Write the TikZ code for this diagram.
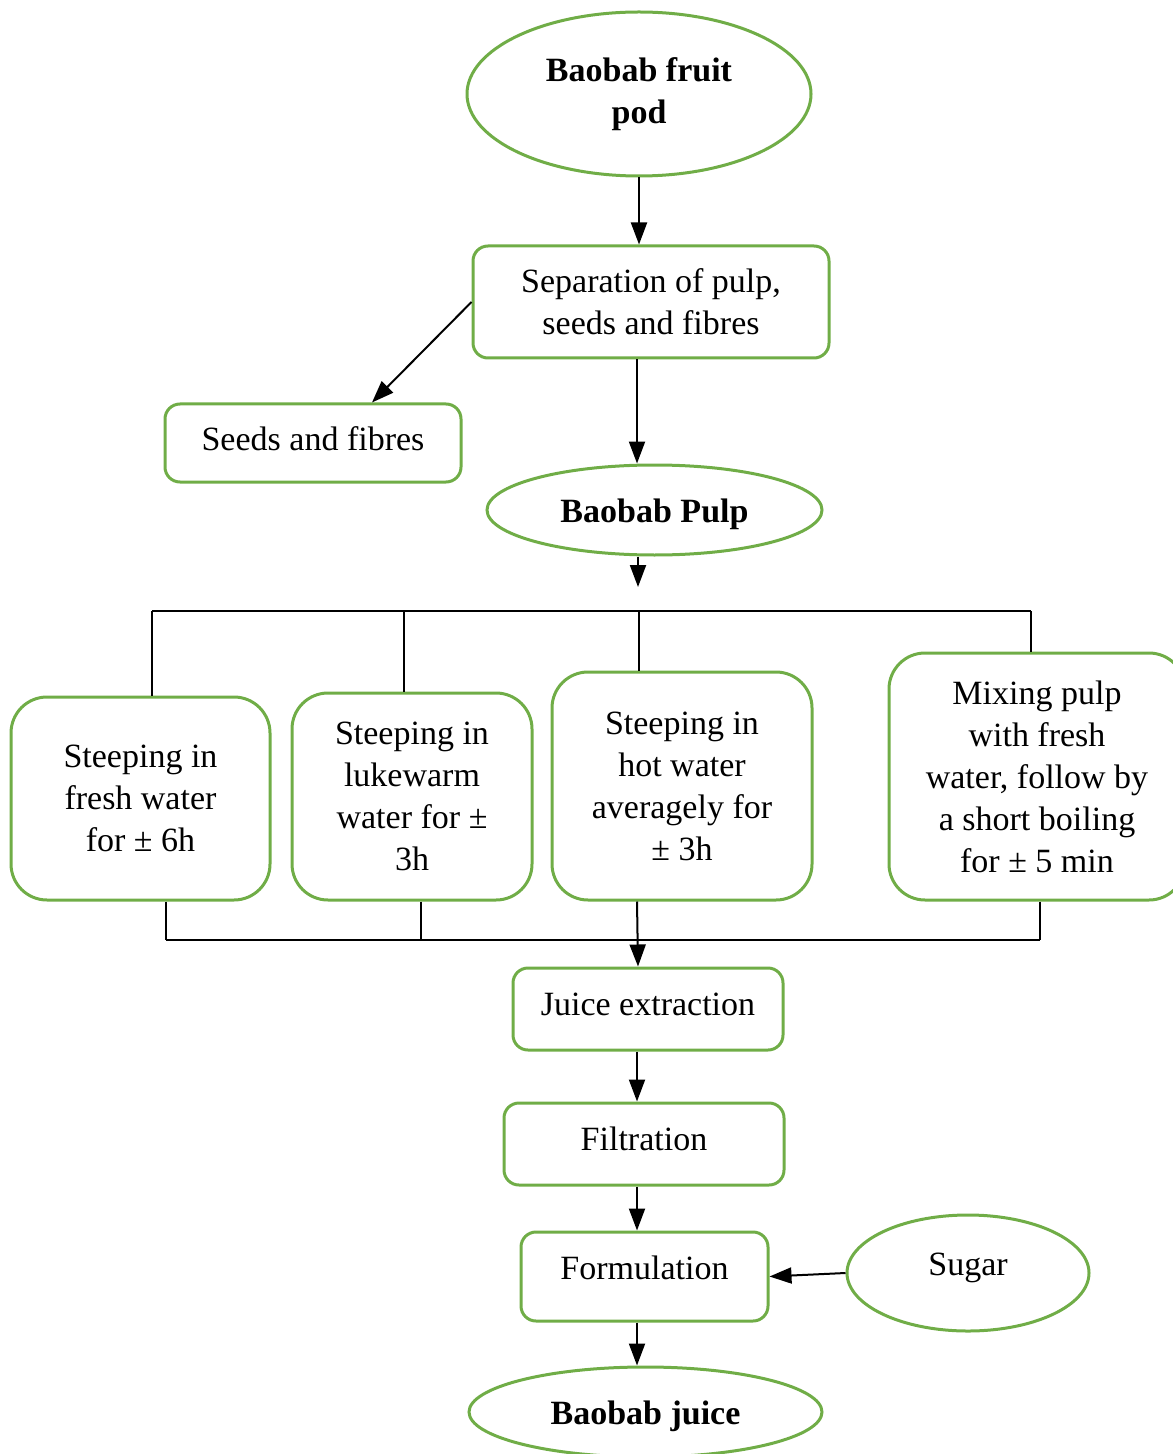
\documentclass[tikz,border=0pt]{standalone}
\usepackage{fontspec}
\setmainfont{Liberation Serif}
\usetikzlibrary{shapes.geometric,arrows.meta}
\definecolor{grx}{HTML}{70AD47}
\tikzset{
    stepbox/.style={draw=grx,line width=1.5pt,rounded corners=7.5pt,align=center,inner sep=2pt,
        font=\fontsize{17}{21}\selectfont},
    bigbox/.style={stepbox,rounded corners=18pt},
    oval/.style={draw=grx,line width=1.5pt,ellipse,align=center,inner sep=0pt,
        font=\fontsize{17}{21}\selectfont},
    boldoval/.style={oval,font=\fontsize{17}{21}\selectfont\bfseries},
    raised/.style={text depth=#1},
    flow/.style={line width=1pt,-{Triangle[length=11pt,width=8pt]}},
    link/.style={line width=1pt}
}

\begin{document}
\begin{tikzpicture}[x=0.5pt,y=-0.5pt]
            \useasboundingbox (0,0) rectangle (1172,1454);
            % main column
            \node [boldoval,minimum width=172pt,minimum height=82pt] (pod) at (639,94) {Baobab fruit\\pod};
            \node [stepbox,minimum width=178pt,minimum height=56pt] (sep) at (651,302) {Separation of pulp,\\seeds and fibres};
            \node [stepbox,raised=4pt,minimum width=148pt,minimum height=39pt] (seeds) at (313,443) {Seeds and fibres};
            \node [boldoval,text height=16pt,minimum width=167.5pt,minimum height=45pt] (pulp) at (654.5,510) {Baobab Pulp};
            % steeping variants
            \node [bigbox,minimum width=129.5pt,minimum height=101.5pt] (s1) at (140.5,798.5) {Steeping in\\fresh water\\for ± 6h};
            \node [bigbox,minimum width=120pt,minimum height=103.5pt] (s2) at (412,796.5) {Steeping in\\lukewarm\\water for ±\\3h};
            \node [bigbox,minimum width=130pt,minimum height=114pt] (s3) at (682,786) {Steeping in\\hot water\\averagely for\\± 3h};
            \node [bigbox,minimum width=148pt,minimum height=123.5pt] (s4) at (1037,776.5) {Mixing pulp\\with fresh\\water, follow by\\a short boiling\\for ± 5 min};
            % processing
            \node [stepbox,raised=5pt,minimum width=135pt,minimum height=41pt] (juice) at (648,1009) {Juice extraction};
            \node [stepbox,raised=5pt,minimum width=140pt,minimum height=41pt] (filt) at (644,1144) {Filtration};
            \node [stepbox,raised=9pt,minimum width=123.5pt,minimum height=44.5pt] (form) at (644.5,1276.5) {Formulation};
            \node [oval,raised=9pt,minimum width=121pt,minimum height=58pt] (sugar) at (968,1273) {Sugar};
            \node [boldoval,text height=16pt,minimum width=176.5pt,minimum height=45pt] (bjuice) at (645.5,1412) {Baobab juice};
            % junctions
            \coordinate (axis) at (637,0);
            \coordinate (pulptip) at (638,587);
            \coordinate (t1) at (152,611);
            \coordinate (t2) at (404,611);
            \coordinate (t3) at (639,611);
            \coordinate (t4) at (1031,611);
            \coordinate (b1) at (166,940);
            \coordinate (b2) at (421,940);
            \coordinate (b4) at (1040,940);
            % connectors
            \draw [flow] (pod.south) -- (sep.north -| pod.south);
            \draw [flow] (sep.west) -- ([xshift=29.5pt]seeds.north);
            \draw [flow] (sep.south -| axis) -- (pulp.north -| axis);
            \draw [flow] (pulp.south -| pulptip) -- (pulptip);
            \draw [link] (t1) -- (t4);
            \foreach \n/\t in {s1/t1,s2/t2,s3/t3,s4/t4} {
                \draw [link] (\t) -- (\n.north -| \t);
            }
            \draw [link] (b1) -- (b4);
            \foreach \n/\b in {s1/b1,s2/b2,s4/b4} {
                \draw [link] (\n.south -| \b) -- (\b);
            }
            \draw [flow] (s3.south -| axis) -- (juice.north -| pulptip);
            \draw [flow] (juice.south -| axis) -- (filt.north -| axis);
            \draw [flow] (filt.south -| axis) -- (form.north -| axis);
            \draw [flow] (form.south -| axis) -- (bjuice.north -| axis);
            \draw [flow] (sugar.west) -- (form.east);
        \end{tikzpicture}
\end{document}
